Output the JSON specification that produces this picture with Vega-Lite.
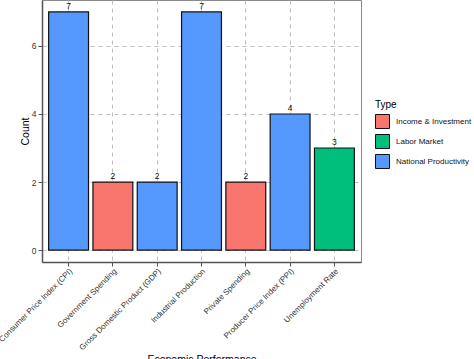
{
  "$schema": "https://vega.github.io/schema/vega-lite/v6.json",
  "autosize": {"type": "none"},
  "width": 319,
  "height": 262,
  "padding": {"left": 42, "top": 0, "right": 113, "bottom": 97},
  "background": "white",
  "config": {
    "font": "Liberation Sans",
    "view": {"stroke": "#8a8a8a", "strokeWidth": 1}
  },
  "data": {
    "values": [
      {"indicator": "Consumer Price Index (CPI)", "type": "National Productivity", "count": 7},
      {"indicator": "Government Spending", "type": "Income & Investment", "count": 2},
      {"indicator": "Gross Domestic Product (GDP)", "type": "National Productivity", "count": 2},
      {"indicator": "Industrial Production", "type": "National Productivity", "count": 7},
      {"indicator": "Private Spending", "type": "Income & Investment", "count": 2},
      {"indicator": "Producer Price Index (PPI)", "type": "National Productivity", "count": 4},
      {"indicator": "Unemployment Rate", "type": "Labor Market", "count": 3}
    ]
  },
  "encoding": {
    "x": {
      "field": "indicator",
      "type": "nominal",
      "sort": null,
      "scale": {"paddingInner": 0.1, "paddingOuter": 0.15},
      "axis": {
        "title": "Economic Performance",
        "titleFontSize": 10.5,
        "titleFontWeight": "normal",
        "titleColor": "#000000",
        "titlePadding": 3,
        "labelAngle": -45,
        "labelAlign": "right",
        "labelBaseline": "top",
        "labelFontSize": 8,
        "labelColor": "#333333",
        "labelPadding": 1,
        "domainColor": "#555555",
        "domainWidth": 1.5,
        "tickColor": "#555555",
        "tickSize": 4,
        "grid": true,
        "gridColor": "#bdbdbd",
        "gridDash": [4, 4],
        "gridWidth": 1
      }
    },
    "y": {
      "field": "count",
      "type": "quantitative",
      "scale": {"domain": [-0.35, 7.35], "nice": false, "zero": false},
      "axis": {
        "title": "Count",
        "titleFontSize": 10.5,
        "titleFontWeight": "normal",
        "titleColor": "#000000",
        "titlePadding": 1,
        "values": [0, 2, 4, 6],
        "labelFontSize": 8.5,
        "labelColor": "#333333",
        "labelPadding": 2,
        "domainColor": "#555555",
        "domainWidth": 1.5,
        "tickColor": "#555555",
        "tickSize": 4,
        "grid": true,
        "gridColor": "#bdbdbd",
        "gridDash": [4, 4],
        "gridWidth": 1
      }
    }
  },
  "layer": [
    {
      "mark": {"type": "bar", "stroke": "#111111", "strokeWidth": 1.2},
      "encoding": {
        "y2": {"datum": 0},
        "color": {
          "field": "type",
          "type": "nominal",
          "scale": {
            "domain": ["Income & Investment", "Labor Market", "National Productivity"],
            "range": ["#F8766D", "#00BF7D", "#5599FF"]
          },
          "legend": {
            "title": "Type",
            "orient": "none",
            "legendX": 333,
            "legendY": 100,
            "titleFontSize": 10,
            "titleFontWeight": "normal",
            "titleColor": "#000000",
            "titlePadding": 4,
            "labelFontSize": 8,
            "labelColor": "#111111",
            "labelOffset": 6,
            "symbolType": "square",
            "symbolSize": 196,
            "symbolStrokeColor": "#111111",
            "symbolStrokeWidth": 1,
            "symbolOpacity": 1,
            "rowPadding": 1
          }
        }
      }
    },
    {
      "mark": {"type": "text", "dy": -1, "fontSize": 8.5, "color": "#111111", "baseline": "bottom"},
      "encoding": {"text": {"field": "count", "type": "quantitative"}}
    }
  ]
}
